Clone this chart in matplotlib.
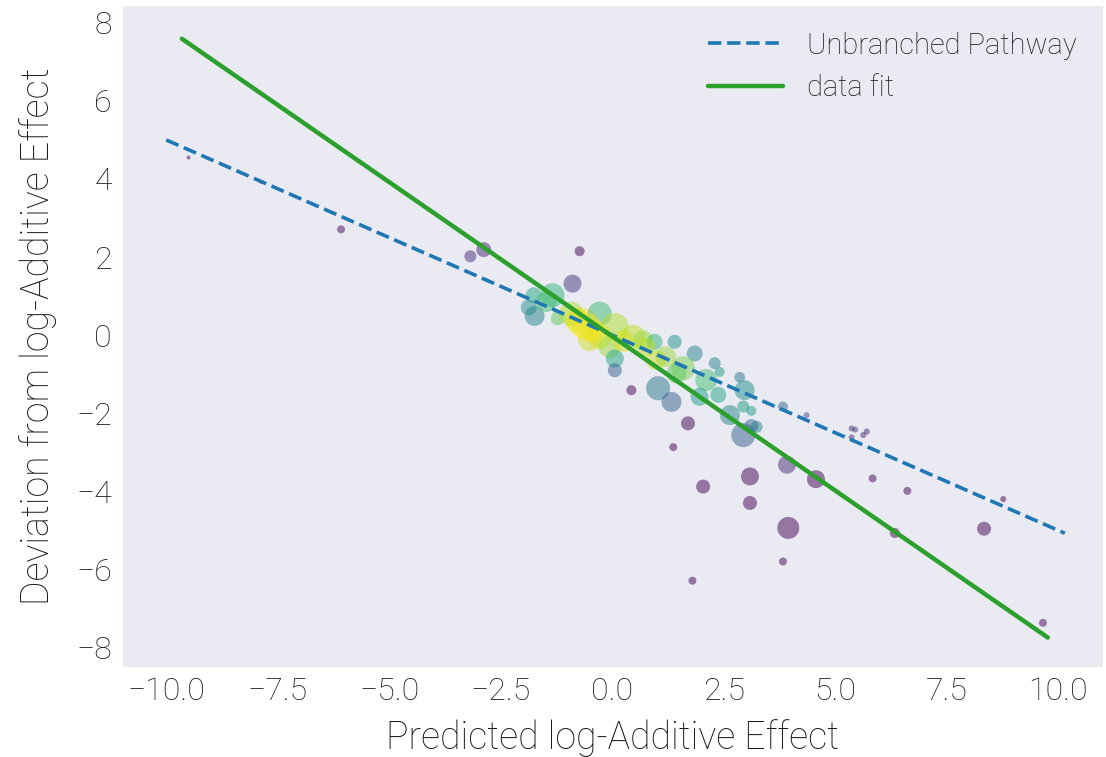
import numpy as np
import matplotlib
matplotlib.use("Agg")
import matplotlib.pyplot as plt
import seaborn as sns

sns.set_style("dark")
plt.rcParams['font.family'] = ['Roboto', 'DejaVu Sans']
plt.rcParams['font.weight'] = 'light'
plt.rcParams['axes.labelweight'] = 'light'

# predicted log-additive effect vs. deviation, one bubble per mutant pair
pred = [-9.50, -7.87, -6.08, -3.18, -2.88, -0.73, -0.89, -1.76, -1.34, -1.87,
        -1.74, -1.48, -1.22, -0.66, -0.92, -0.28, 0.06, -0.28, -0.06, 0.06,
        0.06, 0.47, 0.69, 0.95, 0.43, 1.40, 1.85, 2.30, 2.41, 1.59,
        1.44, 2.11, 2.86, 2.97, 1.03, 1.33, 1.96, 2.38, 2.64, 2.94,
        3.12, 2.94, 3.24, 3.12, 1.70, 1.37, 3.83, 4.36, 5.37, 5.45,
        5.63, 5.71, 5.37, 3.92, 3.09, 2.04, 3.09, 4.57, 5.84, 3.95,
        6.34, 6.62, 8.77, 8.34, 9.66, 3.83, 1.80, 0.99, -0.50,
        -0.55, -0.80, -0.40, 0.25, 0.75, 1.20]
dev = [4.55, 3.92, 2.71, 2.02, 2.19, 2.15, 1.32, 1.02, 1.02, 0.71,
       0.49, 0.85, 0.43, 0.31, 0.55, 0.55, 0.21, -0.04, -0.30, -0.60,
       -0.90, -0.04, -0.13, -0.17, -1.41, -0.17, -0.47, -0.72, -0.94, -0.85,
       -0.98, -1.15, -1.08, -1.41, -1.36, -1.71, -1.58, -1.53, -2.05, -1.83,
       -1.94, -2.56, -2.35, -2.33, -2.26, -2.87, -1.83, -2.05, -2.39, -2.42,
       -2.56, -2.47, -2.62, -3.32, -3.62, -3.88, -4.30, -3.69, -3.67, -4.94,
       -5.07, -3.99, -4.20, -4.96, -7.37, -5.80, -6.29, -0.64, -0.10,
       0.20, 0.40, 0.10, -0.15, -0.30, -0.55]
# bubble area (points^2)
area = [8, 8, 33, 75, 117, 52, 168, 133, 300, 133,
        207, 207, 102, 466, 300, 300, 406, 300, 251, 168,
        102, 300, 207, 133, 52, 102, 133, 75, 52, 300,
        207, 251, 60, 207, 300, 207, 168, 133, 207, 75,
        52, 300, 75, 102, 102, 33, 52, 19, 19, 19,
        19, 19, 19, 168, 168, 102, 102, 168, 33, 251,
        52, 33, 19, 102, 33, 33, 33, 207, 300,
        400, 300, 250, 250, 200, 220]
# colour value (0 = far from model, 1 = close)
score = [0.0, 0.0, 0.0, 0.12, 0.10, 0.0, 0.15, 0.60, 0.65, 0.50,
         0.45, 0.70, 0.75, 1.00, 0.88, 0.68, 0.88, 0.95, 0.85, 0.60,
         0.30, 0.90, 0.85, 0.65, 0.0, 0.50, 0.45, 0.45, 0.55, 0.80,
         0.75, 0.70, 0.40, 0.50, 0.40, 0.30, 0.55, 0.60, 0.45, 0.55,
         0.55, 0.30, 0.45, 0.35, 0.0, 0.0, 0.35, 0.20, 0.15, 0.15,
         0.10, 0.10, 0.15, 0.12, 0.0, 0.0, 0.0, 0.0, 0.0, 0.0,
         0.0, 0.0, 0.0, 0.0, 0.0, 0.0, 0.0, 0.92, 0.92,
         1.00, 0.95, 0.97, 0.93, 0.90, 0.85]

# unbranched pathway model: deviation = -0.5 * prediction
model_x = [-10.0, 10.15]
model_slope = -0.5
# least-squares fit to the points
fit_x = [-9.65, 9.77]
fit_slope, fit_icpt = -0.79, -0.03

fig = plt.figure(figsize=(11.06, 7.57), dpi=100)
ax = fig.add_axes([0.110, 0.119, 0.887, 0.874])

ax.scatter(pred, dev, s=area, c=score, cmap='viridis', vmin=0, vmax=1,
           alpha=0.5, linewidths=0)

mx = np.array(model_x)
ax.plot(mx, model_slope * mx, '--', color='#1f77b4', lw=2.6,
        label='Unbranched Pathway')
fx = np.array(fit_x)
ax.plot(fx, fit_slope * fx + fit_icpt, '-', color='#2ca02c', lw=3.2,
        label='data fit')

ax.set_xlim(-11.0, 11.0)
ax.set_ylim(-8.5, 8.45)
xt = np.arange(-10, 10.1, 2.5)
ax.set_xticks(xt)
ax.set_xticklabels([f"{v:.1f}".replace('-', '\u2212') for v in xt])
ax.set_yticks(np.arange(-8, 9, 2))
ax.tick_params(labelsize=23, colors='.1')

ax.set_xlabel('Predicted log-Additive Effect', fontsize=27, color='.1', labelpad=10)
ax.set_ylabel('Deviation from log-Additive Effect', fontsize=27, color='.1', labelpad=14)

ax.legend(loc='upper right', fontsize=21, frameon=False, handlelength=2.6,
          labelcolor='.1')

fig.savefig('out.png', dpi=100)
